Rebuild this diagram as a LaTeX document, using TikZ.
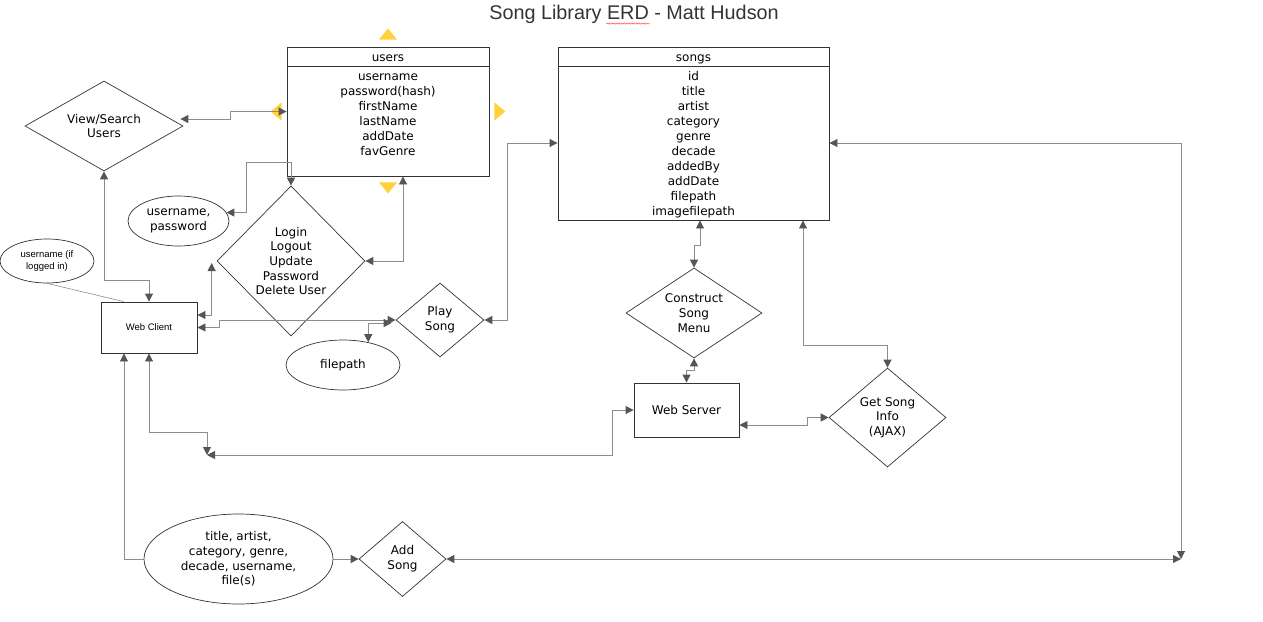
\documentclass[tikz,border=0pt]{standalone}
\usepackage{fontspec}
\setmainfont{DejaVu Sans}
\newfontfamily\arialfont{Liberation Sans}
\usetikzlibrary{positioning,arrows.meta,calc,shapes.geometric,decorations.pathmorphing}
\definecolor{handleyellow}{RGB}{255,210,60}
\definecolor{linkgray}{RGB}{140,140,140}
\definecolor{tipgray}{RGB}{85,85,85}

\begin{document}
\begin{tikzpicture}[x=1pt,y=-1pt,
  >={Triangle[length=8pt,width=8pt,color=tipgray,fill=tipgray]},
  txt/.style={font=\fontsize{12}{14.7}\selectfont,align=center,inner sep=0pt},
  field/.style={txt,text height=8.7pt,text depth=2.5pt},
  small/.style={font=\arialfont\fontsize{9.5}{12}\selectfont,align=center,inner sep=0pt},
  tbl/.style={draw=black!80,line width=0.9pt,rectangle,inner sep=0pt},
  rel/.style={draw=black!80,line width=0.7pt,diamond,inner sep=0pt,txt},
  attr/.style={draw=black!80,line width=0.7pt,ellipse,inner sep=0pt,txt},
  box/.style={draw=black!80,line width=0.9pt,rectangle,inner sep=0pt},
  link/.style={draw=linkgray,line width=0.9pt,<->},
  handle/.style={fill=handleyellow}]
  \useasboundingbox (0,0) rectangle (1263,621);
  % title
  \node[font=\arialfont\fontsize{19.8}{22}\selectfont,text=black!80] (title) at (634,14) {Song Library ERD - Matt Hudson};
  \draw[red!80,line width=0.4pt,decorate,decoration={snake,amplitude=0.7pt,segment length=2.5pt}] (606,23.5) -- (650,23.5);
  % tables
  \node[tbl,minimum width=202pt,minimum height=129pt] (users) at (388,111.5) {};
  \draw[black!80,line width=0.9pt] ($(users.north west)+(0,20)$) -- ($(users.north east)+(0,20)$);
  \node[field] (usershead) at ($(users.north)+(0,12)$) {users};
  \foreach \f [count=\i] in {username,password(hash),firstName,lastName,addDate,favGenre}
    \node[field] (u\i) at ($(users.north)+(0,16+15*\i)$) {\f};
  \node[tbl,minimum width=271pt,minimum height=173pt] (songs) at (693.5,133.5) {};
  \draw[black!80,line width=0.9pt] ($(songs.north west)+(0,20)$) -- ($(songs.north east)+(0,20)$);
  \node[field] (songshead) at ($(songs.north)+(0,12)$) {songs};
  \foreach \f [count=\i] in {id,title,artist,category,genre,decade,addedBy,addDate,filepath,imagefilepath}
    \node[field] (s\i) at ($(songs.north)+(0,16+15*\i)$) {\f};
  % selection handles round users
  \fill[handle] ($(users.north)+(-9,-7)$) -- ++(18,0) -- ++(-9,-11) -- cycle;
  \fill[handle] ($(users.south)+(-9,6)$) -- ++(18,0) -- ++(-9,11) -- cycle;
  \fill[handle] ($(users.west)+(-5,-9)$) -- ++(0,18) -- ++(-11,-9) -- cycle;
  \fill[handle] ($(users.east)+(5,-9)$) -- ++(0,18) -- ++(11,-9) -- cycle;
  % actions and attributes
  \node[rel,aspect=1.76,minimum width=158pt,minimum height=90pt] (view) at (104,126) {View/Search\\Users};
  \node[attr,minimum width=101pt,minimum height=50pt] (cred) at (178.5,221) {username,\\password};
  \node[rel,aspect=1,minimum width=148pt,minimum height=150pt] (login) at (291,261) {Login\\Logout\\Update\\Password\\Delete User};
  \node[attr,small,minimum width=94pt,minimum height=44pt] (loggedin) at (47,261) {username (if\\logged in)};
  \node[box,small,minimum width=96pt,minimum height=51pt] (wclient) at (149,327.5) {Web Client};
  \node[rel,aspect=1.19,minimum width=88pt,minimum height=74pt] (play) at (440,320) {Play\\Song};
  \node[attr,minimum width=114pt,minimum height=50pt] (fpath) at (343,365) {filepath};
  \node[rel,aspect=1.51,minimum width=136pt,minimum height=90pt] (menu) at (694,313) {Construct\\Song\\Menu};
  \node[box,txt,minimum width=105pt,minimum height=54pt] (wserver) at (686.5,410) {Web Server};
  \node[rel,aspect=1.18,minimum width=117pt,minimum height=99pt] (info) at (887.5,417.5) {Get Song\\Info\\(AJAX)};
  \node[attr,minimum width=189pt,minimum height=90pt] (newsong) at (238.5,559) {title, artist,\\category, genre,\\decade, username,\\file(s)};
  \node[rel,aspect=1.16,minimum width=87pt,minimum height=75pt] (addsong) at (402.5,559) {Add\\Song};
  \coordinate (jA) at (207,455);
  \coordinate (jB) at (1181,559);
  % connectors
  \draw[link] (users.west) -- ++(-56,0) |- ($(view.east)+(-3,-7)$);
  \draw[link] (view.south) -- ++(0,109) -| (wclient.north);
  \draw[link] (login.north) -- ++(0,-23) -- ++(-45,0) |- (cred.10);
  \draw[link] (login.east) -| ($(users.south)+(15,0)$);
  \draw[link] ($(wclient.east)+(0,-12.5)$) -| ($(login.west)+(-5,2)$);
  \draw[link] (wclient.east) -- ++(22,0) |- (play.west);
  \draw[link] (fpath.42) |- ($(play.west)+(-4,3)$);
  \draw[link] (play.east) -- ++(23,0) |- ($(songs.west)+(0,9.5)$);
  \draw[link] ($(songs.south)+(6.5,0)$) -- ++(0,25) -| (menu.north);
  \draw[link] (menu.south) -- ++(0,12) -| (wserver.north);
  \draw[link] ($(songs.south)+(109.5,0)$) -- ++(0,125) -| (info.north);
  \draw[link] ($(wserver.east)+(0,15)$) -- ++(68,0) |- (info.west);
  \draw[link] (wclient.south) -- ++(0,79) -| (jA);
  \draw[link] (jA) -- ++(405,0) |- (wserver.west);
  \draw[link,<-] ($(wclient.south)+(-25,0)$) |- (newsong.west);
  \draw[link,->] (newsong.east) -- (addsong.west);
  \draw[link] ($(songs.east)+(0,9.5)$) -| (jB);
  \draw[link] (addsong.east) -- (jB);
  \draw[linkgray,line width=0.6pt] (loggedin.south) -- ($(wclient.north west)+(23,0)$);
\end{tikzpicture}
\end{document}
